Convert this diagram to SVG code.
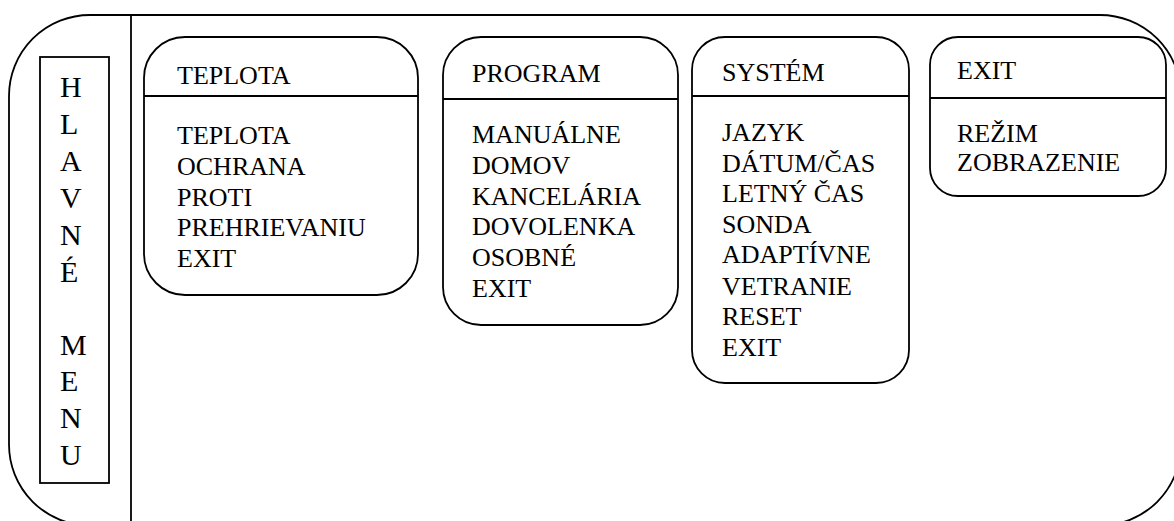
<svg xmlns="http://www.w3.org/2000/svg" width="1174" height="521" viewBox="0 0 1174 521">
<style>
.ln{fill:none;stroke:#000;stroke-width:1.8}
</style>
<rect width="1174" height="521" fill="#fff"/>
<g id="frame">
<rect class="ln" x="9" y="15" width="1172" height="510.5" rx="81" ry="81"/>
<line class="ln" x1="131" y1="15" x2="131" y2="521"/>
</g>
<g id="hlavne-menu">
<rect class="ln" x="40" y="57" width="69" height="426"/>
<text x="60" y="97" font-family="Liberation Serif" font-size="30" style="font-family:'Liberation Serif',serif;font-size:30px">H</text>
<text x="60" y="134" font-family="Liberation Serif" font-size="30" style="font-family:'Liberation Serif',serif;font-size:30px">L</text>
<text x="60" y="171" font-family="Liberation Serif" font-size="30" style="font-family:'Liberation Serif',serif;font-size:30px">A</text>
<text x="60" y="208" font-family="Liberation Serif" font-size="30" style="font-family:'Liberation Serif',serif;font-size:30px">V</text>
<text x="60" y="245" font-family="Liberation Serif" font-size="30" style="font-family:'Liberation Serif',serif;font-size:30px">N</text>
<text x="60" y="282" font-family="Liberation Serif" font-size="30" style="font-family:'Liberation Serif',serif;font-size:30px">É</text>
<text x="60" y="355" font-family="Liberation Serif" font-size="30" style="font-family:'Liberation Serif',serif;font-size:30px">M</text>
<text x="60" y="391" font-family="Liberation Serif" font-size="30" style="font-family:'Liberation Serif',serif;font-size:30px">E</text>
<text x="60" y="428" font-family="Liberation Serif" font-size="30" style="font-family:'Liberation Serif',serif;font-size:30px">N</text>
<text x="60" y="465" font-family="Liberation Serif" font-size="30" style="font-family:'Liberation Serif',serif;font-size:30px">U</text>
</g>
<g id="teplota">
<rect class="ln" x="144" y="37" width="274" height="258" rx="41" ry="41"/>
<line class="ln" x1="144" y1="96" x2="418" y2="96"/>
<text x="177" y="84" font-family="Liberation Serif" font-size="26" style="font-family:'Liberation Serif',serif;font-size:26px">TEPLOTA</text>
<text x="177" y="144" font-family="Liberation Serif" font-size="26" style="font-family:'Liberation Serif',serif;font-size:26px">TEPLOTA</text>
<text x="177" y="175" font-family="Liberation Serif" font-size="26" style="font-family:'Liberation Serif',serif;font-size:26px">OCHRANA</text>
<text x="177" y="206" font-family="Liberation Serif" font-size="26" style="font-family:'Liberation Serif',serif;font-size:26px">PROTI</text>
<text x="177" y="236" font-family="Liberation Serif" font-size="26" style="font-family:'Liberation Serif',serif;font-size:26px">PREHRIEVANIU</text>
<text x="177" y="267" font-family="Liberation Serif" font-size="26" style="font-family:'Liberation Serif',serif;font-size:26px">EXIT</text>
</g>
<g id="program">
<rect class="ln" x="443" y="37" width="235" height="288" rx="38" ry="38"/>
<line class="ln" x1="443" y1="99" x2="678" y2="99"/>
<text x="472" y="82" font-family="Liberation Serif" font-size="26" style="font-family:'Liberation Serif',serif;font-size:26px">PROGRAM</text>
<text x="472" y="143" font-family="Liberation Serif" font-size="26" style="font-family:'Liberation Serif',serif;font-size:26px">MANUÁLNE</text>
<text x="472" y="174" font-family="Liberation Serif" font-size="26" style="font-family:'Liberation Serif',serif;font-size:26px">DOMOV</text>
<text x="472" y="205" font-family="Liberation Serif" font-size="26" style="font-family:'Liberation Serif',serif;font-size:26px">KANCELÁRIA</text>
<text x="472" y="235" font-family="Liberation Serif" font-size="26" style="font-family:'Liberation Serif',serif;font-size:26px">DOVOLENKA</text>
<text x="472" y="266" font-family="Liberation Serif" font-size="26" style="font-family:'Liberation Serif',serif;font-size:26px">OSOBNÉ</text>
<text x="472" y="297" font-family="Liberation Serif" font-size="26" style="font-family:'Liberation Serif',serif;font-size:26px">EXIT</text>
</g>
<g id="system">
<rect class="ln" x="692" y="37" width="217" height="346" rx="33" ry="33"/>
<line class="ln" x1="692" y1="96" x2="909" y2="96"/>
<text x="722" y="81" font-family="Liberation Serif" font-size="26" style="font-family:'Liberation Serif',serif;font-size:26px">SYSTÉM</text>
<text x="722" y="141" font-family="Liberation Serif" font-size="26" style="font-family:'Liberation Serif',serif;font-size:26px">JAZYK</text>
<text x="722" y="172" font-family="Liberation Serif" font-size="26" style="font-family:'Liberation Serif',serif;font-size:26px">DÁTUM/ČAS</text>
<text x="722" y="202" font-family="Liberation Serif" font-size="26" style="font-family:'Liberation Serif',serif;font-size:26px">LETNÝ ČAS</text>
<text x="722" y="233" font-family="Liberation Serif" font-size="26" style="font-family:'Liberation Serif',serif;font-size:26px">SONDA</text>
<text x="722" y="263" font-family="Liberation Serif" font-size="26" style="font-family:'Liberation Serif',serif;font-size:26px">ADAPTÍVNE</text>
<text x="722" y="295" font-family="Liberation Serif" font-size="26" style="font-family:'Liberation Serif',serif;font-size:26px">VETRANIE</text>
<text x="722" y="325" font-family="Liberation Serif" font-size="26" style="font-family:'Liberation Serif',serif;font-size:26px">RESET</text>
<text x="722" y="356" font-family="Liberation Serif" font-size="26" style="font-family:'Liberation Serif',serif;font-size:26px">EXIT</text>
</g>
<g id="exit">
<rect class="ln" x="930" y="37" width="236" height="159" rx="28" ry="28"/>
<line class="ln" x1="930" y1="98" x2="1166" y2="98"/>
<text x="957" y="79" font-family="Liberation Serif" font-size="26" style="font-family:'Liberation Serif',serif;font-size:26px">EXIT</text>
<text x="957" y="142" font-family="Liberation Serif" font-size="26" style="font-family:'Liberation Serif',serif;font-size:26px">REŽIM</text>
<text x="957" y="171" font-family="Liberation Serif" font-size="26" style="font-family:'Liberation Serif',serif;font-size:26px">ZOBRAZENIE</text>
</g>
<g id="connectors"></g>
</svg>
